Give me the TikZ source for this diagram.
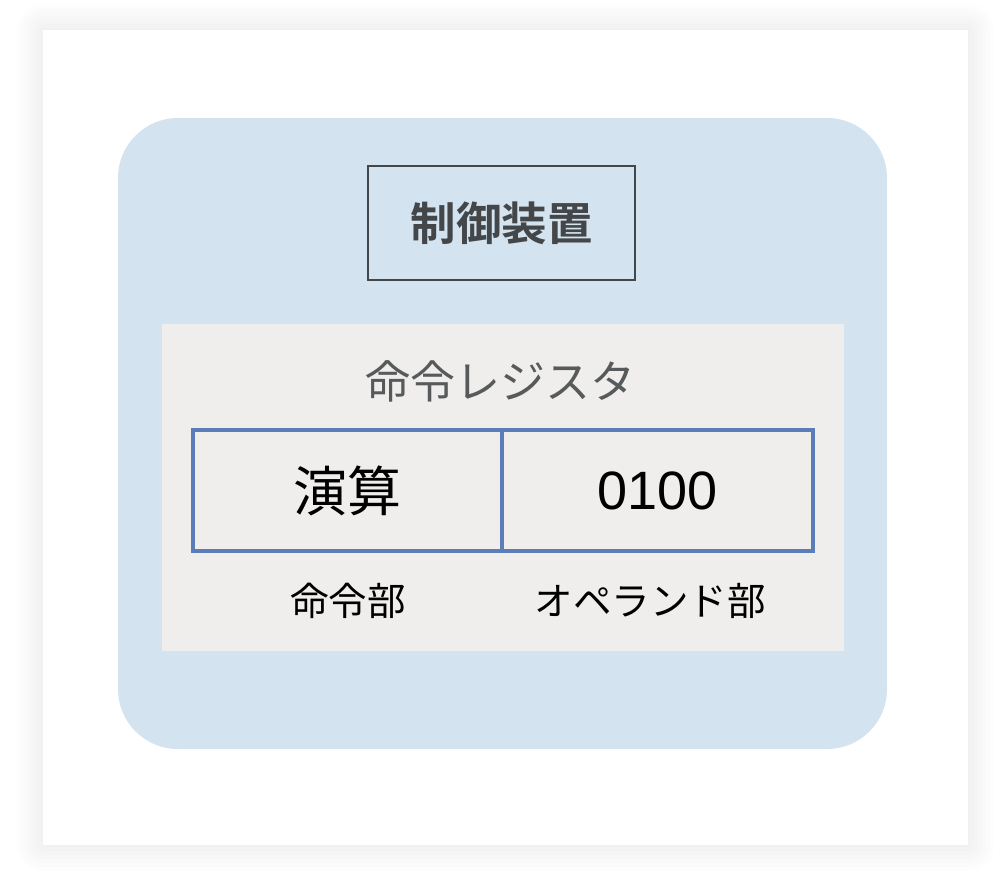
\documentclass[tikz,border=0pt]{standalone}
\usepackage{fontspec}
\setmainfont{Noto Sans CJK JP}[BoldFont={Noto Sans CJK JP Bold}]
\newfontfamily\numfont{Liberation Sans}
\definecolor{unitblue}{HTML}{D4E3F0}
\definecolor{panelgrey}{HTML}{EFEEEC}
\definecolor{cellblue}{HTML}{5B7DB8}
\definecolor{inkgrey}{HTML}{444749}
\tikzset{
    ctrlbox/.style={draw=inkgrey, line width=2.4pt, minimum width=267pt, minimum height=114pt,
        text=inkgrey, font=\fontsize{45.5}{50}\selectfont\bfseries},
    regtitle/.style={text=inkgrey!90, font=\fontsize{45}{50}\selectfont},
    cell/.style={draw=cellblue, line width=4.8pt, minimum height=121pt, inner sep=0pt,
        font=\fontsize{54}{60}\selectfont},
    celllabel/.style={font=\fontsize{38.5}{44}\selectfont}
}
\begin{document}
\begin{tikzpicture}[x=1pt, y=-1pt]
    \useasboundingbox (0, 0) rectangle (1008, 886);
    \fill[white] (0, 0) rectangle (1008, 886);
    % card shadow
    \foreach \d in {26,22,...,2} {
        \fill[black, opacity=0.006, rounded corners=\d] (43-\d, 30-\d) rectangle (968+\d, 845+\d);
    };
    \fill[white] (43, 30) rectangle (968, 845);
    % control unit
    \fill[unitblue, rounded corners=60] (118, 118) rectangle (887, 749);
    \node[ctrlbox] (ctrl) at (501.5, 223) {制御装置};
    % instruction register
    \fill[panelgrey] (162, 324) rectangle (844, 651);
    \node[regtitle] (reg) at (500, 381) {命令レジスタ};
    \node[cell, minimum width=309pt] (opcode) at (347.5, 490.5) {演算};
    \node[cell, minimum width=311pt, font=\fontsize{54}{60}\numfont] (operand) at (657.5, 490.5) {0100};
    \node[celllabel] (opcodelabel) at (348, 601) {命令部};
    \node[celllabel] (operandlabel) at (650, 601) {オペランド部};
\end{tikzpicture}
\end{document}
